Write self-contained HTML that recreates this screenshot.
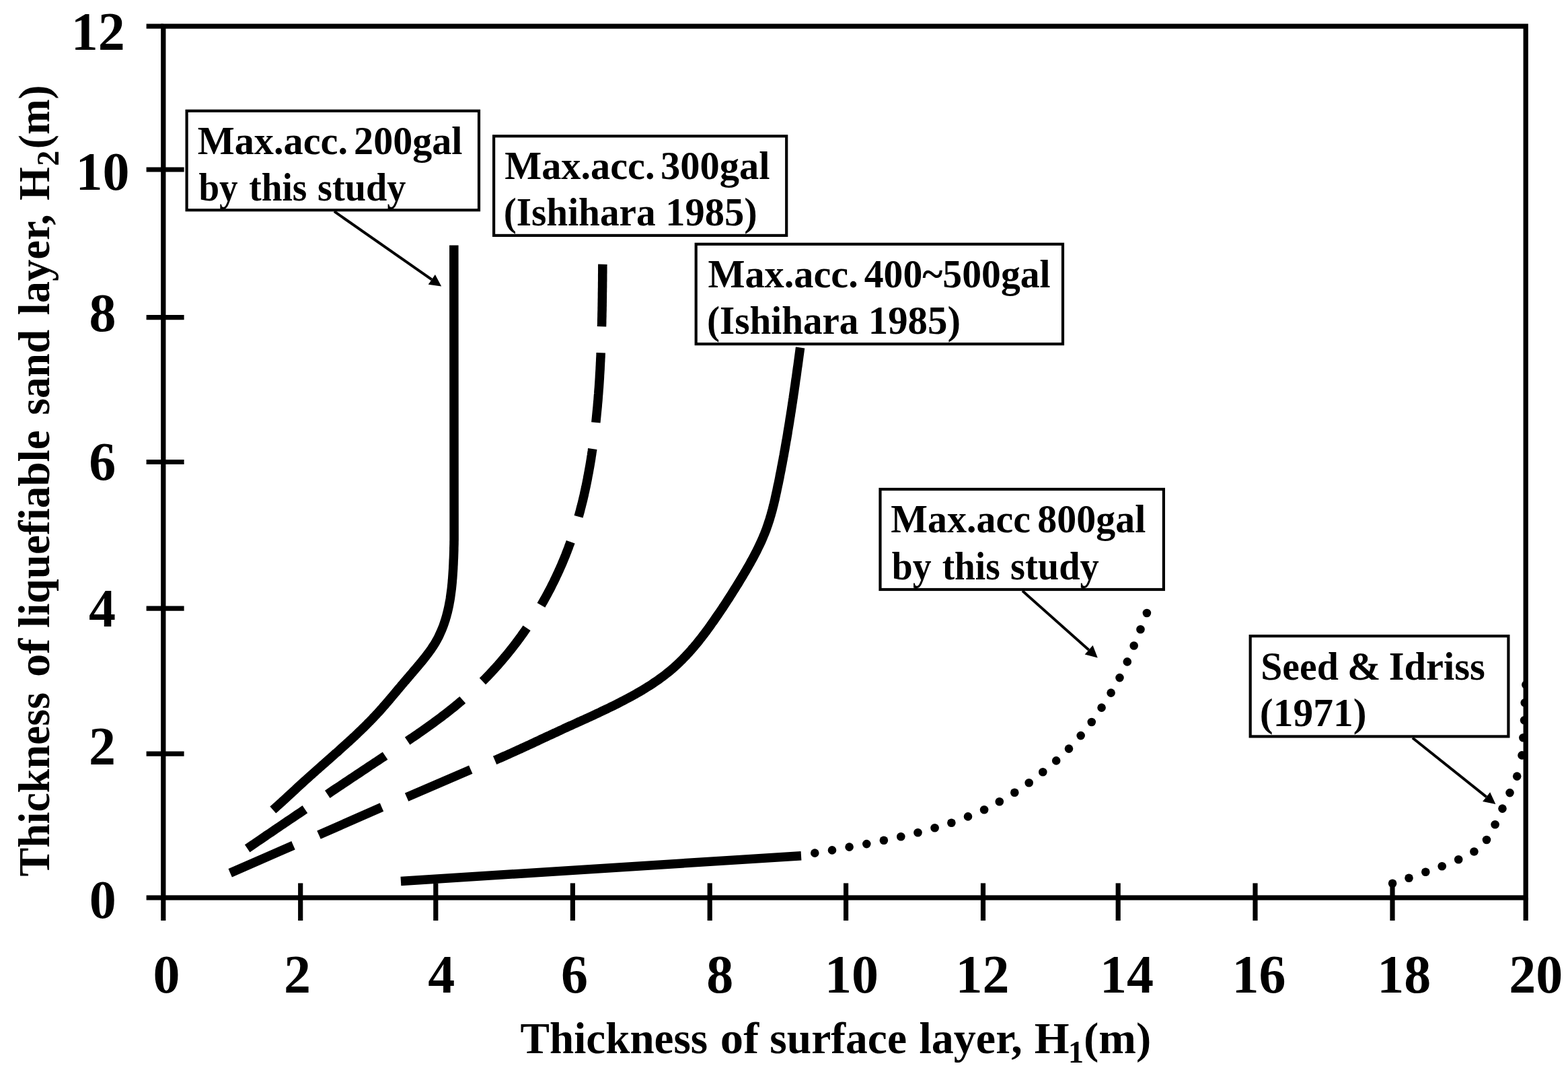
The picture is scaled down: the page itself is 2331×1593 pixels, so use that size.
<!DOCTYPE html>
<html lang="en">
<head>
<meta charset="utf-8">
<title>Thickness of liquefiable sand layer vs. thickness of surface layer</title>
<style>
html,body{margin:0;padding:0;background:#fff;}
body{width:2331px;height:1593px;overflow:hidden;}
svg{display:block;font-family:'Liberation Serif','Times New Roman',serif;font-weight:bold;fill:#000;}
</style>
</head>
<body>
<svg width="2331" height="1593" viewBox="0 0 2331 1593">
<rect width="2331" height="1593" fill="#fff"/>
<defs><clipPath id="plot"><rect x="242.8" y="39.0" width="2025.4" height="1295.0"/></clipPath></defs>
<g id="curves" clip-path="url(#plot)">
<path d="M674.8,364.4 L675.1,802.5 L675.0,805.5 L675.0,808.5 L674.9,811.5 L674.8,814.5 L674.8,817.5 L674.7,820.5 L674.6,823.5 L674.5,826.5 L674.4,829.5 L674.2,832.5 L674.1,835.5 L674.0,838.5 L673.8,841.6 L673.7,844.6 L673.5,847.6 L673.3,850.6 L673.1,853.6 L672.9,856.6 L672.7,859.6 L672.4,862.6 L672.2,865.6 L671.9,868.6 L671.6,871.6 L671.3,874.6 L670.9,877.6 L670.5,880.6 L670.1,883.5 L669.7,886.5 L669.3,889.5 L668.8,892.5 L668.2,895.4 L667.7,898.4 L667.1,901.3 L666.5,904.2 L665.8,907.1 L665.1,910.1 L664.3,913.0 L663.6,915.9 L662.7,918.7 L661.9,921.6 L660.9,924.4 L660.0,927.3 L659.0,930.1 L657.9,932.9 L656.8,935.6 L655.6,938.4 L654.4,941.1 L653.2,943.8 L651.9,946.5 L650.5,949.1 L649.1,951.7 L647.6,954.3 L646.1,956.9 L644.5,959.4 L642.8,961.9 L641.2,964.4 L639.5,966.8 L637.7,969.2 L635.9,971.6 L634.1,974.0 L632.3,976.4 L630.4,978.8 L628.5,981.1 L626.6,983.5 L624.7,985.8 L622.7,988.1 L620.8,990.4 L618.8,992.7 L616.9,995.0 L614.9,997.3 L613.0,999.6 L611.0,1001.9 L609.0,1004.2 L607.1,1006.5 L605.1,1008.8 L603.2,1011.1 L601.2,1013.3 L599.3,1015.6 L597.3,1017.9 L595.4,1020.2 L593.5,1022.5 L591.5,1024.8 L589.6,1027.1 L587.7,1029.4 L585.7,1031.7 L583.8,1034.0 L581.9,1036.3 L579.9,1038.6 L578.0,1040.9 L576.0,1043.2 L574.1,1045.4 L572.1,1047.7 L570.1,1049.9 L568.2,1052.2 L566.2,1054.4 L564.2,1056.7 L562.2,1058.9 L560.1,1061.1 L558.1,1063.3 L556.0,1065.4 L554.0,1067.6 L551.9,1069.8 L549.8,1071.9 L547.7,1074.0 L545.6,1076.2 L543.5,1078.3 L541.4,1080.4 L539.2,1082.5 L537.1,1084.6 L534.9,1086.7 L532.8,1088.7 L530.6,1090.8 L528.4,1092.9 L526.2,1094.9 L524.0,1097.0 L521.8,1099.0 L519.6,1101.0 L517.4,1103.1 L515.2,1105.1 L512.9,1107.1 L510.7,1109.1 L508.5,1111.1 L506.2,1113.1 L504.0,1115.2 L501.8,1117.2 L499.5,1119.1 L497.3,1121.1 L495.0,1123.1 L492.8,1125.1 L490.5,1127.1 L488.2,1129.1 L486.0,1131.1 L483.7,1133.1 L481.5,1135.1 L479.2,1137.0 L477.0,1139.0 L474.7,1141.0 L472.5,1143.0 L470.2,1145.0 L468.0,1147.0 L465.7,1149.0 L463.5,1151.0 L461.2,1153.0 L459.0,1155.0 L456.8,1157.0 L454.5,1159.0 L452.3,1161.0 L450.1,1163.0 L447.9,1165.1 L445.7,1167.1 L443.5,1169.1 L441.3,1171.1 L439.1,1173.2 L436.9,1175.2 L434.7,1177.2 L432.5,1179.3 L430.3,1181.3 L428.0,1183.3 L425.8,1185.4 L423.6,1187.4 L421.4,1189.4 L419.2,1191.5 L417.0,1193.5 L414.8,1195.5 L412.5,1197.5 L410.3,1199.5 L408.1,1201.5 L405.8,1203.5" fill="none" stroke="#000" stroke-width="13.5" stroke-linejoin="round"/>
<path d="M895.9,392.7 L895.8,395.8 L895.8,398.9 L895.8,402.0 L895.8,405.0 L895.7,408.1 L895.7,411.2 L895.7,414.3 L895.7,417.4 L895.6,420.4 L895.6,423.5 L895.6,426.6 L895.5,429.7 L895.5,432.8 L895.4,435.9 L895.4,438.9 L895.4,442.0 L895.3,445.1 L895.3,448.2 L895.2,451.3 L895.2,454.4 L895.1,457.5 L895.1,460.6 L895.0,463.6 L894.9,466.7 L894.9,469.8 L894.8,472.9 L894.7,476.0 L894.7,479.1 L894.6,482.2 L894.5,485.3" fill="none" stroke="#000" stroke-width="13.5"/>
<path d="M893.2,524.2 L893.1,527.2 L893.0,530.3 L892.8,533.3 L892.7,536.4 L892.5,539.4 L892.4,542.5 L892.2,545.6 L892.1,548.6 L891.9,551.7 L891.7,554.7 L891.5,557.8 L891.4,560.8 L891.2,563.9 L891.0,566.9 L890.8,570.0 L890.6,573.1 L890.4,576.1 L890.1,579.2 L889.9,582.2 L889.7,585.3 L889.4,588.3 L889.2,591.4 L889.0,594.4 L888.7,597.5 L888.4,600.5 L888.2,603.6 L887.9,606.6 L887.6,609.6 L887.3,612.7 L887.0,615.7 L886.7,618.8 L886.4,621.8 L886.1,624.9 L885.8,627.9" fill="none" stroke="#000" stroke-width="13.5"/>
<path d="M880.8,667.0 L880.4,670.0 L879.9,673.0 L879.5,676.0 L879.0,679.0 L878.6,681.9 L878.1,684.9 L877.6,687.9 L877.1,690.9 L876.6,693.9 L876.0,696.9 L875.5,699.9 L875.0,702.8 L874.4,705.8 L873.8,708.8 L873.3,711.8 L872.7,714.7 L872.1,717.7 L871.5,720.7 L870.9,723.6 L870.2,726.6 L869.6,729.6 L868.9,732.5 L868.3,735.5 L867.6,738.4 L866.9,741.4 L866.2,744.3 L865.5,747.2 L864.7,750.2 L864.0,753.1 L863.2,756.0 L862.5,759.0 L861.7,761.9 L860.9,764.8 L860.1,767.7" fill="none" stroke="#000" stroke-width="13.5"/>
<path d="M848.2,805.2 L847.2,808.1 L846.1,810.9 L845.1,813.8 L844.0,816.6 L842.9,819.5 L841.8,822.3 L840.7,825.2 L839.5,828.0 L838.4,830.8 L837.2,833.7 L836.0,836.5 L834.8,839.3 L833.6,842.1 L832.3,844.9 L831.1,847.7 L829.8,850.5 L828.5,853.2 L827.2,856.0 L825.9,858.8 L824.6,861.5 L823.3,864.3 L821.9,867.0 L820.5,869.8 L819.2,872.5 L817.8,875.2 L816.3,877.9 L814.9,880.6 L813.5,883.3 L812.0,886.0 L810.5,888.7 L809.0,891.4 L807.5,894.1 L806.0,896.7 L804.5,899.4" fill="none" stroke="#000" stroke-width="13.5"/>
<path d="M783.1,933.2 L781.4,935.7 L779.7,938.2 L777.9,940.7 L776.1,943.2 L774.4,945.7 L772.6,948.1 L770.8,950.5 L769.0,953.0 L767.2,955.4 L765.3,957.8 L763.5,960.2 L761.6,962.6 L759.7,965.0 L757.8,967.4 L755.9,969.7 L754.0,972.1 L752.1,974.4 L750.1,976.7 L748.2,979.0 L746.2,981.4 L744.3,983.6 L742.3,985.9 L740.3,988.2 L738.2,990.5 L736.2,992.7 L734.2,994.9 L732.1,997.2 L730.1,999.4 L728.0,1001.6 L725.9,1003.8 L723.8,1006.0 L721.7,1008.1 L719.6,1010.3 L717.4,1012.4" fill="none" stroke="#000" stroke-width="13.5"/>
<path d="M687.7,1040.0 L685.4,1042.0 L683.1,1043.9 L680.8,1045.9 L678.5,1047.8 L676.2,1049.7 L673.8,1051.6 L671.5,1053.4 L669.2,1055.3 L666.8,1057.2 L664.4,1059.0 L662.1,1060.9 L659.7,1062.7 L657.3,1064.5 L654.9,1066.3 L652.5,1068.1 L650.1,1069.9 L647.7,1071.7 L645.2,1073.5 L642.8,1075.3 L640.4,1077.0 L637.9,1078.8 L635.5,1080.5 L633.0,1082.3 L630.6,1084.0 L628.1,1085.7 L625.6,1087.5 L623.1,1089.2 L620.7,1090.9 L618.2,1092.6 L615.7,1094.3 L613.2,1096.0 L610.7,1097.7 L608.2,1099.4 L605.7,1101.1" fill="none" stroke="#000" stroke-width="13.5"/>
<path d="M572.6,1123.1 L570.1,1124.8 L567.6,1126.4 L565.0,1128.1 L562.5,1129.8 L560.0,1131.5 L557.4,1133.2 L554.9,1134.8 L552.4,1136.5 L549.8,1138.2 L547.3,1139.9 L544.8,1141.6 L542.3,1143.2 L539.7,1144.9 L537.2,1146.6 L534.7,1148.3 L532.1,1150.0 L529.6,1151.6 L527.1,1153.3 L524.6,1155.0 L522.0,1156.7 L519.5,1158.4 L517.0,1160.1 L514.5,1161.7 L512.0,1163.4 L509.4,1165.1 L506.9,1166.8 L504.4,1168.5 L501.9,1170.2 L499.4,1171.8 L496.8,1173.5 L494.3,1175.2 L491.8,1176.9 L489.3,1178.6 L486.8,1180.3" fill="none" stroke="#000" stroke-width="13.5"/>
<path d="M453.4,1202.7 L450.9,1204.4 L448.4,1206.1 L445.9,1207.8 L443.3,1209.5 L440.8,1211.2 L438.3,1212.9 L435.8,1214.6 L433.2,1216.3 L430.7,1218.0 L428.2,1219.7 L425.7,1221.4 L423.1,1223.1 L420.6,1224.8 L418.1,1226.5 L415.6,1228.2 L413.1,1230.0 L410.5,1231.7 L408.0,1233.4 L405.5,1235.1 L403.0,1236.8 L400.5,1238.5 L397.9,1240.2 L395.4,1241.9 L392.9,1243.7 L390.4,1245.4 L387.9,1247.1 L385.3,1248.8 L382.8,1250.5 L380.3,1252.2 L377.8,1254.0 L375.3,1255.7 L372.8,1257.4 L370.2,1259.1 L367.7,1260.8" fill="none" stroke="#000" stroke-width="13.5"/>
<path d="M735.6,1129.8 L738.4,1128.6 L741.1,1127.4 L743.9,1126.2 L746.6,1125.0 L749.4,1123.8 L752.1,1122.6 L754.9,1121.4 L757.6,1120.1 L760.4,1118.9 L763.1,1117.7 L765.9,1116.4 L768.6,1115.2 L771.3,1113.9 L774.1,1112.7 L776.8,1111.4 L779.6,1110.1 L782.3,1108.9 L785.0,1107.6 L787.8,1106.4 L790.5,1105.1 L793.2,1103.8 L795.9,1102.5 L798.7,1101.3 L801.4,1100.0 L804.1,1098.7 L806.9,1097.4 L809.6,1096.2 L812.3,1094.9 L815.0,1093.6 L817.8,1092.4 L820.5,1091.1 L823.2,1089.8 L826.0,1088.6 L828.7,1087.3 L831.4,1086.0 L834.1,1084.8 L836.9,1083.5 L839.6,1082.2 L842.3,1081.0 L845.1,1079.7 L847.8,1078.5 L850.5,1077.3 L853.3,1076.0 L856.0,1074.8 L858.7,1073.5 L861.5,1072.3 L864.2,1071.0 L866.9,1069.8 L869.7,1068.6 L872.4,1067.3 L875.1,1066.1 L877.9,1064.8 L880.6,1063.6 L883.3,1062.3 L886.0,1061.0 L888.8,1059.8 L891.5,1058.5 L894.2,1057.2 L896.9,1055.9 L899.6,1054.6 L902.3,1053.3 L905.1,1052.0 L907.8,1050.7 L910.5,1049.4 L913.2,1048.1 L915.9,1046.7 L918.5,1045.4 L921.2,1044.0 L923.9,1042.6 L926.6,1041.2 L929.3,1039.8 L931.9,1038.4 L934.6,1037.0 L937.3,1035.6 L939.9,1034.1 L942.6,1032.6 L945.2,1031.2 L947.8,1029.7 L950.5,1028.1 L953.1,1026.6 L955.7,1025.1 L958.3,1023.5 L960.8,1021.9 L963.4,1020.3 L966.0,1018.7 L968.5,1017.1 L971.0,1015.4 L973.5,1013.7 L976.0,1012.0 L978.5,1010.3 L980.9,1008.5 L983.3,1006.8 L985.8,1005.0 L988.1,1003.2 L990.5,1001.3 L992.9,999.4 L995.2,997.6 L997.5,995.6 L999.8,993.7 L1002.0,991.7 L1004.2,989.7 L1006.4,987.7 L1008.6,985.7 L1010.8,983.6 L1012.9,981.5 L1015.0,979.4 L1017.1,977.2 L1019.2,975.1 L1021.2,972.9 L1023.3,970.7 L1025.3,968.4 L1027.3,966.2 L1029.2,963.9 L1031.2,961.7 L1033.1,959.4 L1035.1,957.1 L1037.0,954.7 L1038.9,952.4 L1040.7,950.0 L1042.6,947.7 L1044.4,945.3 L1046.3,942.9 L1048.1,940.5 L1049.9,938.1 L1051.7,935.6 L1053.5,933.2 L1055.2,930.8 L1057.0,928.3 L1058.7,925.8 L1060.5,923.4 L1062.2,920.9 L1063.9,918.4 L1065.6,915.9 L1067.3,913.5 L1069.0,911.0 L1070.7,908.5 L1072.4,906.0 L1074.1,903.5 L1075.7,901.0 L1077.4,898.5 L1079.1,895.9 L1080.7,893.4 L1082.3,890.9 L1084.0,888.4 L1085.6,885.8 L1087.2,883.3 L1088.8,880.7 L1090.4,878.2 L1092.0,875.6 L1093.6,873.1 L1095.2,870.5 L1096.8,868.0 L1098.4,865.4 L1099.9,862.8 L1101.5,860.2 L1103.0,857.7 L1104.6,855.1 L1106.1,852.5 L1107.7,849.9 L1109.2,847.3 L1110.7,844.7 L1112.2,842.1 L1113.7,839.5 L1115.2,836.9 L1116.6,834.2 L1118.1,831.6 L1119.5,829.0 L1120.9,826.3 L1122.3,823.6 L1123.7,821.0 L1125.1,818.3 L1126.4,815.6 L1127.7,812.9 L1129.0,810.2 L1130.3,807.5 L1131.6,804.8 L1132.8,802.0 L1134.0,799.3 L1135.1,796.5 L1136.3,793.8 L1137.4,791.0 L1138.5,788.2 L1139.5,785.4 L1140.5,782.6 L1141.5,779.7 L1142.4,776.9 L1143.4,774.0 L1144.3,771.2 L1145.1,768.3 L1146.0,765.4 L1146.8,762.5 L1147.6,759.6 L1148.4,756.7 L1149.1,753.8 L1149.9,750.9 L1150.6,748.0 L1151.3,745.0 L1152.0,742.1 L1152.6,739.1 L1153.3,736.2 L1153.9,733.2 L1154.6,730.3 L1155.2,727.3 L1155.8,724.4 L1156.4,721.4 L1157.1,718.5 L1157.7,715.5 L1158.3,712.5 L1158.9,709.6 L1159.4,706.6 L1160.0,703.7 L1160.6,700.7 L1161.2,697.8 L1161.7,694.8 L1162.3,691.8 L1162.9,688.9 L1163.4,685.9 L1164.0,683.0 L1164.5,680.0 L1165.1,677.0 L1165.6,674.1 L1166.1,671.1 L1166.7,668.2 L1167.2,665.2 L1167.7,662.2 L1168.2,659.3 L1168.7,656.3 L1169.3,653.3 L1169.8,650.4 L1170.3,647.4 L1170.8,644.5 L1171.2,641.5 L1171.7,638.5 L1172.2,635.6 L1172.7,632.6 L1173.2,629.6 L1173.7,626.7 L1174.1,623.7 L1174.6,620.7 L1175.1,617.8 L1175.5,614.8 L1176.0,611.8 L1176.5,608.8 L1176.9,605.9 L1177.4,602.9 L1177.8,599.9 L1178.3,597.0 L1178.7,594.0 L1179.2,591.0 L1179.6,588.0 L1180.0,585.1 L1180.5,582.1 L1180.9,579.1 L1181.3,576.1 L1181.8,573.2 L1182.2,570.2 L1182.6,567.2 L1183.0,564.2 L1183.5,561.3 L1183.9,558.3 L1184.3,555.3 L1184.7,552.3 L1185.1,549.3 L1185.5,546.3 L1186.0,543.4 L1186.4,540.4 L1186.8,537.4 L1187.2,534.4 L1187.6,531.4 L1188.0,528.4 L1188.4,525.5 L1188.8,522.5 L1189.2,519.5 L1189.6,516.5" fill="none" stroke="#000" stroke-width="13.5" stroke-linejoin="round"/>
<line x1="699.8" y1="1143.6" x2="604.6" y2="1184.6" stroke="#000" stroke-width="13.5"/>
<line x1="567.5" y1="1199.5" x2="474" y2="1240.6" stroke="#000" stroke-width="13.5"/>
<line x1="436" y1="1256.2" x2="342.2" y2="1297.3" stroke="#000" stroke-width="13.5"/>
<line x1="595.9" y1="1309.4" x2="1191" y2="1271.8" stroke="#000" stroke-width="13.5"/>
<circle cx="1211.3" cy="1267.6" r="6.3"/>
<circle cx="1237" cy="1263.4" r="6.3"/>
<circle cx="1262.6" cy="1258.6" r="6.3"/>
<circle cx="1288.3" cy="1254.1" r="6.3"/>
<circle cx="1313.9" cy="1248.8" r="6.3"/>
<circle cx="1339.3" cy="1243.3" r="6.3"/>
<circle cx="1364.5" cy="1237.2" r="6.3"/>
<circle cx="1389.6" cy="1230.3" r="6.3"/>
<circle cx="1414.4" cy="1222.7" r="6.3"/>
<circle cx="1439" cy="1213.4" r="6.3"/>
<circle cx="1463.1" cy="1203.3" r="6.3"/>
<circle cx="1485.8" cy="1191.2" r="6.3"/>
<circle cx="1508.3" cy="1177.7" r="6.3"/>
<circle cx="1529.7" cy="1163.2" r="6.3"/>
<circle cx="1550.3" cy="1147.3" r="6.3"/>
<circle cx="1570.2" cy="1130.4" r="6.3"/>
<circle cx="1589" cy="1112.6" r="6.3"/>
<circle cx="1606.7" cy="1093.1" r="6.3"/>
<circle cx="1622.8" cy="1073" r="6.3"/>
<circle cx="1637.6" cy="1051.6" r="6.3"/>
<circle cx="1651.6" cy="1029.6" r="6.3"/>
<circle cx="1664.5" cy="1007.1" r="6.3"/>
<circle cx="1675.8" cy="983.4" r="6.3"/>
<circle cx="1685.7" cy="959.5" r="6.3"/>
<circle cx="1695.5" cy="935.3" r="6.3"/>
<circle cx="1704.9" cy="911" r="6.3"/>
<circle cx="2070.1" cy="1312.7" r="6.3"/>
<circle cx="2094.5" cy="1304.7" r="6.3"/>
<circle cx="2119.3" cy="1295.8" r="6.3"/>
<circle cx="2143.7" cy="1287.2" r="6.3"/>
<circle cx="2168.2" cy="1277.2" r="6.3"/>
<circle cx="2191.4" cy="1265.5" r="6.3"/>
<circle cx="2210" cy="1248" r="6.3"/>
<circle cx="2222.6" cy="1225.3" r="6.3"/>
<circle cx="2233.5" cy="1201.6" r="6.3"/>
<circle cx="2244.5" cy="1178.1" r="6.3"/>
<circle cx="2255.2" cy="1153.6" r="6.3"/>
<circle cx="2262.5" cy="1122.4" r="6.3"/>
<circle cx="2264.4" cy="1096.2" r="6.3"/>
<circle cx="2266.1" cy="1070.2" r="6.3"/>
<circle cx="2266.8" cy="1044.2" r="6.3"/>
<circle cx="2268.4" cy="1017.5" r="6.3"/>
</g>
<g id="axes">
<rect x="242.8" y="39.0" width="2025.4" height="1295.0" fill="none" stroke="#000" stroke-width="7.3"/>
<line x1="242.8" y1="1334.0" x2="242.8" y2="1368.0" stroke="#000" stroke-width="7.2"/>
<line x1="446.7" y1="1312.4" x2="446.7" y2="1368.0" stroke="#000" stroke-width="7.2"/>
<line x1="647.8" y1="1312.4" x2="647.8" y2="1368.0" stroke="#000" stroke-width="7.2"/>
<line x1="851.4" y1="1312.4" x2="851.4" y2="1368.0" stroke="#000" stroke-width="7.2"/>
<line x1="1055.2" y1="1312.4" x2="1055.2" y2="1368.0" stroke="#000" stroke-width="7.2"/>
<line x1="1257.6" y1="1312.4" x2="1257.6" y2="1368.0" stroke="#000" stroke-width="7.2"/>
<line x1="1461.5" y1="1312.4" x2="1461.5" y2="1368.0" stroke="#000" stroke-width="7.2"/>
<line x1="1662.2" y1="1312.4" x2="1662.2" y2="1368.0" stroke="#000" stroke-width="7.2"/>
<line x1="1866" y1="1312.4" x2="1866" y2="1368.0" stroke="#000" stroke-width="7.2"/>
<line x1="2070" y1="1312.4" x2="2070" y2="1368.0" stroke="#000" stroke-width="7.2"/>
<line x1="2268.2" y1="1334.0" x2="2268.2" y2="1368.0" stroke="#000" stroke-width="7.2"/>
<line x1="217.6" y1="39" x2="242.8" y2="39" stroke="#000" stroke-width="7.2"/>
<line x1="217.6" y1="252.0" x2="273.6" y2="252.0" stroke="#000" stroke-width="7.2"/>
<line x1="217.6" y1="471.6" x2="273.6" y2="471.6" stroke="#000" stroke-width="7.2"/>
<line x1="217.6" y1="686.5" x2="273.6" y2="686.5" stroke="#000" stroke-width="7.2"/>
<line x1="217.6" y1="904.1" x2="273.6" y2="904.1" stroke="#000" stroke-width="7.2"/>
<line x1="217.6" y1="1120.2" x2="273.6" y2="1120.2" stroke="#000" stroke-width="7.2"/>
<line x1="217.6" y1="1334" x2="242.8" y2="1334" stroke="#000" stroke-width="7.2"/>
</g>
<g id="ticklabels">
<text font-size="80"><tspan x="105.80" y="74.30">12</tspan></text>
<text font-size="80"><tspan x="112.50" y="282.40">10</tspan></text>
<text font-size="80"><tspan x="132.40" y="491.60">8</tspan></text>
<text font-size="80"><tspan x="132.20" y="713.20">6</tspan></text>
<text font-size="80"><tspan x="132.00" y="931.00">4</tspan></text>
<text font-size="80"><tspan x="132.00" y="1135.80">2</tspan></text>
<text font-size="80"><tspan x="132.70" y="1363.90">0</tspan></text>
<text font-size="80"><tspan x="227.50" y="1475.40">0</tspan> <tspan x="422.00" y="1475.40">2</tspan> <tspan x="636.30" y="1475.40">4</tspan> <tspan x="834.10" y="1475.40">6</tspan> <tspan x="1050.20" y="1475.40">8</tspan> <tspan x="1225.90" y="1475.40">10</tspan> <tspan x="1420.60" y="1475.40">12</tspan> <tspan x="1635.10" y="1475.40">14</tspan> <tspan x="1831.60" y="1475.40">16</tspan> <tspan x="2047.20" y="1475.40">18</tspan> <tspan x="2243.20" y="1475.40">20</tspan></text>
</g>
<g id="titles">
<text font-size="66"><tspan x="773.51" y="1565.00" textLength="278.71" lengthAdjust="spacingAndGlyphs">Thickness</tspan> <tspan x="1070.88" y="1565.00" textLength="57.18" lengthAdjust="spacingAndGlyphs">of</tspan> <tspan x="1144.31" y="1565.00" textLength="203.74" lengthAdjust="spacingAndGlyphs">surface</tspan> <tspan x="1366.50" y="1565.00">layer,</tspan> <tspan x="1537.69" y="1565.00" textLength="51.87" lengthAdjust="spacingAndGlyphs">H</tspan><tspan font-size="46" x="1588.00" y="1579.00">1</tspan><tspan x="1610.96" y="1565.00" textLength="100.32" lengthAdjust="spacingAndGlyphs">(m)</tspan></text>
<text transform="translate(73.40,0) rotate(-90)" font-size="66"><tspan x="-1302.47" y="0.00" textLength="273.56" lengthAdjust="spacingAndGlyphs">Thickness</tspan> <tspan x="-1006.12" y="0.00" textLength="57.18" lengthAdjust="spacingAndGlyphs">of</tspan> <tspan x="-932.89" y="0.00" textLength="293.51" lengthAdjust="spacingAndGlyphs">liquefiable</tspan> <tspan x="-616.82" y="0.00" textLength="126.99" lengthAdjust="spacingAndGlyphs">sand</tspan> <tspan x="-468.18" y="0.00" textLength="149.90" lengthAdjust="spacingAndGlyphs">layer,</tspan> <tspan x="-297.87" y="0.00" textLength="49.56" lengthAdjust="spacingAndGlyphs">H</tspan><tspan font-size="46" x="-246.80" y="14.00">2</tspan><tspan x="-221.17" y="0.00" textLength="94.68" lengthAdjust="spacingAndGlyphs">(m)</tspan></text>
</g>
<g id="boxes">
<rect x="277.6" y="164.8" width="434.4" height="147.4" fill="#fff" stroke="#000" stroke-width="4.2"/>
<text font-size="58.5"><tspan x="293.70" y="228.50" textLength="223.34" lengthAdjust="spacingAndGlyphs">Max.acc.</tspan> <tspan x="526.11" y="228.50" textLength="161.39" lengthAdjust="spacingAndGlyphs">200gal</tspan></text>
<text font-size="58.5"><tspan x="295.46" y="298.00" textLength="58.09" lengthAdjust="spacingAndGlyphs">by</tspan> <tspan x="370.26" y="298.00" textLength="86.03" lengthAdjust="spacingAndGlyphs">this</tspan> <tspan x="472.08" y="298.00" textLength="131.38" lengthAdjust="spacingAndGlyphs">study</tspan></text>
<rect x="734.1" y="202.3" width="435.1" height="147.6" fill="#fff" stroke="#000" stroke-width="4.2"/>
<text font-size="58.5"><tspan x="750.20" y="265.60" textLength="223.34" lengthAdjust="spacingAndGlyphs">Max.acc.</tspan> <tspan x="981.90" y="265.60">300gal</tspan></text>
<text font-size="58.5"><tspan x="748.66" y="334.80" textLength="226.03" lengthAdjust="spacingAndGlyphs">(Ishihara</tspan> <tspan x="989.31" y="334.80">1985)</tspan></text>
<rect x="1034.7" y="362.8" width="545.3" height="148.4" fill="#fff" stroke="#000" stroke-width="4.2"/>
<text font-size="58.5"><tspan x="1052.50" y="426.90" textLength="223.24" lengthAdjust="spacingAndGlyphs">Max.acc.</tspan> <tspan x="1284.71" y="426.90" textLength="276.97" lengthAdjust="spacingAndGlyphs">400~500gal</tspan></text>
<text font-size="58.5"><tspan x="1051.07" y="496.10" textLength="225.32" lengthAdjust="spacingAndGlyphs">(Ishihara</tspan> <tspan x="1290.77" y="496.10" textLength="137.22" lengthAdjust="spacingAndGlyphs">1985)</tspan></text>
<rect x="1308.5" y="727" width="421.4" height="149.0" fill="#fff" stroke="#000" stroke-width="4.2"/>
<text font-size="58.5"><tspan x="1324.31" y="791.40" textLength="207.61" lengthAdjust="spacingAndGlyphs">Max.acc</tspan> <tspan x="1542.32" y="791.40" textLength="160.98" lengthAdjust="spacingAndGlyphs">800gal</tspan></text>
<text font-size="58.5"><tspan x="1325.85" y="861.00" textLength="58.81" lengthAdjust="spacingAndGlyphs">by</tspan> <tspan x="1400.66" y="861.00" textLength="86.03" lengthAdjust="spacingAndGlyphs">this</tspan> <tspan x="1502.07" y="861.00" textLength="131.69" lengthAdjust="spacingAndGlyphs">study</tspan></text>
<rect x="1858.7" y="945.2" width="383.7" height="149.2" fill="#fff" stroke="#000" stroke-width="4.2"/>
<text font-size="58.5"><tspan x="1874.24" y="1010.00" textLength="115.55" lengthAdjust="spacingAndGlyphs">Seed</tspan> <tspan x="2002.96" y="1010.00" textLength="49.41" lengthAdjust="spacingAndGlyphs">&amp;</tspan> <tspan x="2064.80" y="1010.00">Idriss</tspan></text>
<text font-size="58.5"><tspan x="1872.85" y="1078.70" textLength="158.67" lengthAdjust="spacingAndGlyphs">(1971)</tspan></text>
</g>
<g id="arrows">
<line x1="496.9" y1="314.2" x2="641.8" y2="415.4" stroke="#000" stroke-width="4.0"/>
<polygon points="656.2,425.5 636.7,422.7 646.9,408.1"/>
<line x1="1520.0" y1="878.1" x2="1618.6" y2="965.7" stroke="#000" stroke-width="4.0"/>
<polygon points="1631.8,977.4 1612.7,972.4 1624.6,959.1"/>
<line x1="2099.9" y1="1096.5" x2="2209.6" y2="1184.1" stroke="#000" stroke-width="4.0"/>
<polygon points="2223.4,1195.1 2204.1,1191.1 2215.2,1177.2"/>
</g>
</svg>
</body>
</html>
